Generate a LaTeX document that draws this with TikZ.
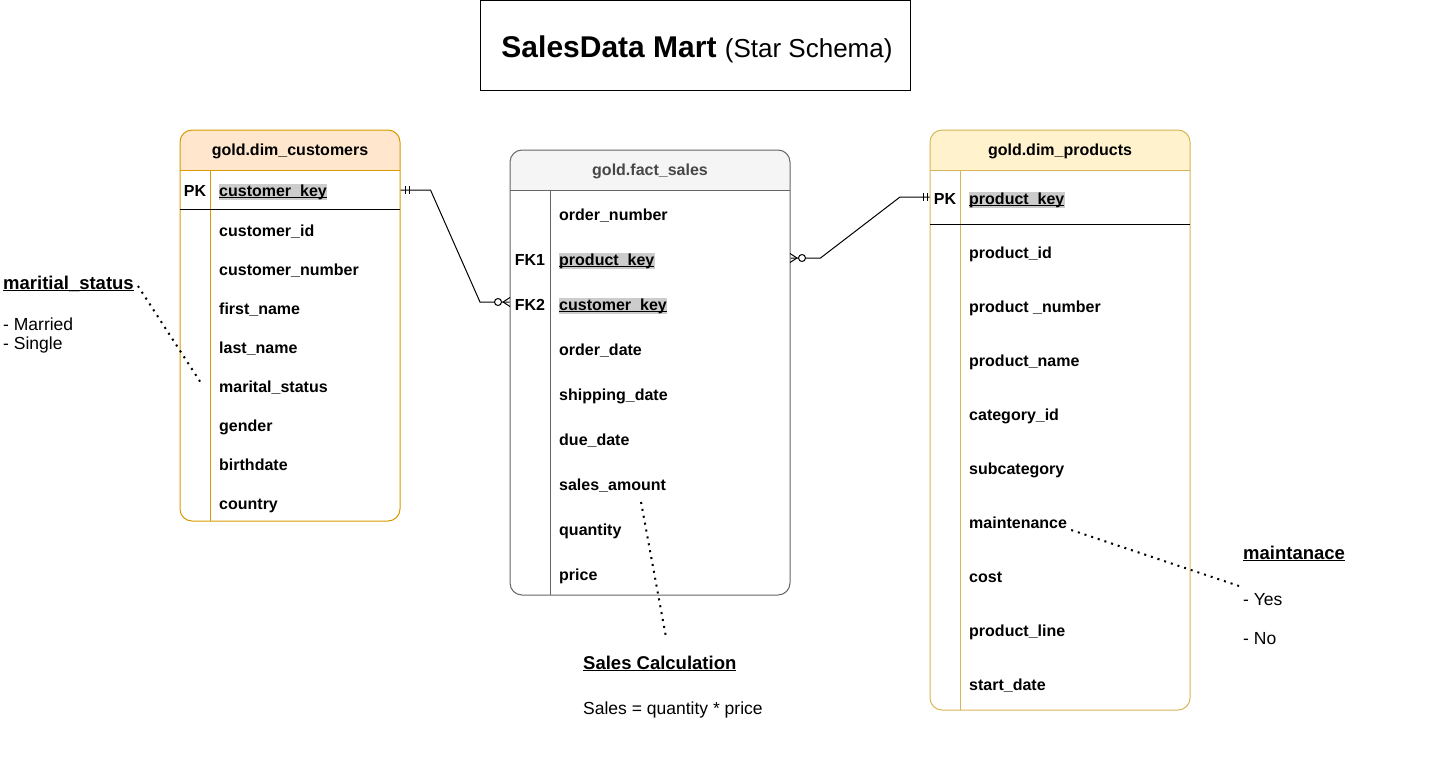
\documentclass[tikz,border=0pt]{standalone}
\usepackage{fontspec}
\setmainfont{Liberation Sans}
\usetikzlibrary{positioning,calc,backgrounds}

\definecolor{custfill}{HTML}{FFE6CC}
\definecolor{custline}{HTML}{D79B00}
\definecolor{prodfill}{HTML}{FFF2CC}
\definecolor{prodline}{HTML}{D6B656}
\definecolor{factfill}{HTML}{F5F5F5}
\definecolor{factline}{HTML}{666666}
\definecolor{keybg}{HTML}{CCCCCC}

\begin{document}
\begin{tikzpicture}[x=1pt, y=-1pt,
        field/.style={anchor=west, inner sep=0pt, text height=12pt, text depth=4pt, yshift=-2pt,
                font=\bfseries\fontsize{16}{19}\selectfont},
        keyfield/.style={field, fill=keybg, inner xsep=0.5pt},
        tag/.style={inner sep=0pt, text height=12pt, text depth=4pt, yshift=-2pt,
                font=\bfseries\fontsize{16}{19}\selectfont},
        hdr/.style={yshift=-3pt, font=\bfseries\fontsize{16}{19}\selectfont},
        table/.style={rounded corners=12pt, line width=1pt, inner sep=0pt},
        notehead/.style={anchor=west, inner sep=0pt, yshift=-7pt, font=\bfseries\fontsize{18.5}{22}\selectfont},
        note/.style={anchor=west, inner sep=0pt, yshift=-1.5pt, font=\fontsize{17.5}{21}\selectfont},
        rel/.style={line width=1pt},
        dots/.style={line width=2pt, dash pattern=on 2pt off 5pt}]
        \useasboundingbox (0,0) rectangle (1440,774);

        % title
        \node[draw, line width=1pt, minimum width=430pt, minimum height=90pt] (title) at (695,45.5) {};
        \node (titletext) at (697,49)
                {\bfseries\fontsize{30}{36}\selectfont SalesData Mart\ \mdseries\fontsize{26}{31}\selectfont(Star Schema)};

        % tables
        \node[table, draw=custline, minimum width=220pt, minimum height=391pt] (cust) at (290,325.5) {};
        \node[table, draw=factline, minimum width=280pt, minimum height=445pt] (fact) at (650,372.5) {};
        \node[table, draw=prodline, minimum width=260pt, minimum height=580pt] (prod) at (1060,420) {};

        \begin{scope}[on background layer]
                \fill[custfill, rounded corners=12pt] (180,130) rectangle (400,182);
                \fill[white] (180,170) rectangle (400,183);
                \fill[factfill, rounded corners=12pt] (510,150) rectangle (790,202);
                \fill[white] (510,190) rectangle (790,203);
                \fill[prodfill, rounded corners=12pt] (930,130) rectangle (1190,182);
                \fill[white] (930,170) rectangle (1190,183);
        \end{scope}

        \draw[custline, line width=1pt] (180,170) -- (400,170) (210,170) -- (210,521);
        \draw[line width=1pt] (180,209.5) -- (400,209.5);
        \draw[factline, line width=1pt] (510,190) -- (790,190) (550,190) -- (550,595);
        \draw[prodline, line width=1pt] (930,170) -- (1190,170) (960,170) -- (960,710);
        \draw[line width=1pt] (930,224.5) -- (1190,224.5);

        \node[hdr] (custhdr) at (290,148) {gold.dim\_customers};
        \node[hdr, text=factline!70!black] (facthdr) at (650,168) {gold.fact\_sales};
        \node[hdr] (prodhdr) at (1060,148) {gold.dim\_products};

        % gold.dim_customers
        \node[tag] (cpktag) at (195,190) {PK};
        \node[keyfield] (cpk) at (218.5,190) {\underline{\smash{customer\_key}}};
        \foreach \f [count=\i] in {customer\_id, customer\_number, first\_name, last\_name,
                        marital\_status, gender, birthdate, country}
                \node[field] (c\i) at (219,191+39*\i) {\f};

        % gold.fact_sales
        \node[field] (f0) at (559,214) {order\_number};
        \node[tag] (fk1tag) at (530,259) {FK1};
        \node[keyfield] (fk1) at (558.5,259) {\underline{\smash{product\_key}}};
        \node[tag] (fk2tag) at (530,304) {FK2};
        \node[keyfield] (fk2) at (558.5,304) {\underline{\smash{customer\_key}}};
        \foreach \f [count=\i] in {order\_date, shipping\_date, due\_date, sales\_amount,
                        quantity, price}
                \node[field] (f\i) at (559,304+45*\i) {\f};

        % gold.dim_products
        \node[tag] (ppktag) at (945,198) {PK};
        \node[keyfield] (ppk) at (968.5,198) {\underline{\smash{product\_key}}};
        \foreach \f [count=\i] in {product\_id, product \_number, product\_name, category\_id,
                        subcategory, maintenance, cost, product\_line, start\_date}
                \node[field] (p\i) at (969,198+54*\i) {\f};

        % relations
        \draw[rel] (cust.east |- 0,190) -- ++(30,0) -- (480,302) -- (fact.west |- 0,302);
        \draw[rel] (405,186) -- (405,194) (409,186) -- (409,194);
        \draw[rel] (503,302) -- (510,297.5) (503,302) -- (510,306.5);
        \draw[rel, fill=white] (498,302) circle (3.5);

        \draw[rel] (fact.east |- 0,258) -- ++(30,0) -- (900,197) -- (prod.west |- 0,197);
        \draw[rel] (923,193) -- (923,201) (927,193) -- (927,201);
        \draw[rel] (797,258) -- (790,253.5) (797,258) -- (790,262.5);
        \draw[rel, fill=white] (802,258) circle (3.5);

        % notes
        \node[notehead] (msnote) at (3,283) {\underline{\smash{maritial\_status}}};
        \node[note] (married) at (3,323) {- Married};
        \node[note] (single) at (3,343) {- Single};
        \draw[dots] ([shift={(4,-4)}]msnote.east) -- ([shift={(-18,-5)}]c5.west);

        \node[notehead] (mtnote) at (1243,553) {\underline{\smash{maintanace}}};
        \node[note] (yes) at (1243,598) {- Yes};
        \node[note] (no) at (1243,637) {- No};
        \draw[dots] ([shift={(4,6)}]p6.east) -- ([shift={(-4,-13.5)}]yes.west);

        \node[notehead] (calcnote) at (583,663) {\underline{\smash{Sales Calculation}}};
        \node[note] (formula) at (583,708) {Sales = quantity * price};
        \draw[dots] ([shift={(82,16)}]f4.west) -- ([shift={(83,-33)}]calcnote.west);
\end{tikzpicture}
\end{document}
